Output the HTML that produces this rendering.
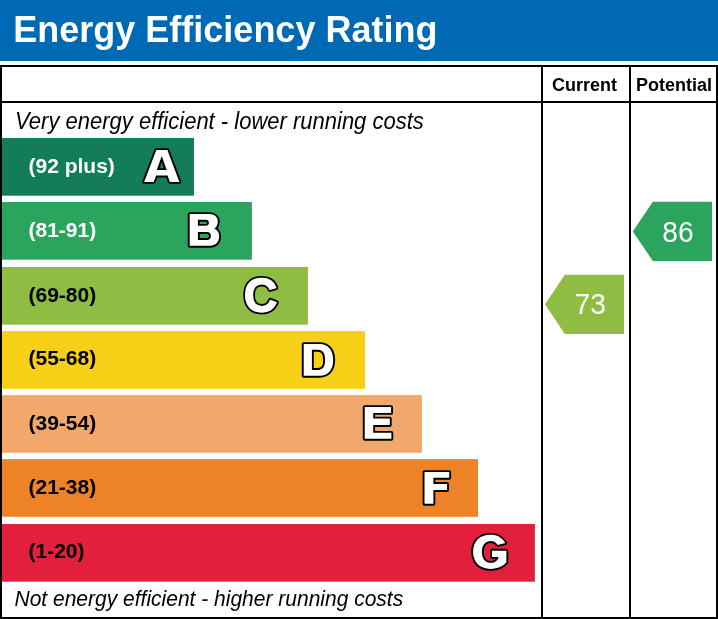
<!DOCTYPE html>
<html><head><meta charset="utf-8">
<style>
html,body{margin:0;padding:0;}
body{width:718px;height:619px;position:relative;overflow:hidden;background:#fff;font-family:"Liberation Sans",sans-serif;}
.abs{position:absolute;}
#hdr{left:0;top:0;width:718px;height:61px;background:#0069b4;}
#title{left:13.3px;top:9px;color:#fff;font-weight:bold;font-size:36px;line-height:42px;white-space:nowrap;}
.ln{background:#000;}
.bar{left:2px;height:57.7px;}
.rng{left:28.5px;color:#fff;font-weight:bold;font-size:21px;line-height:22px;white-space:nowrap;}
.rngd{color:#000;}
.it{left:15px;font-style:italic;font-size:22px;line-height:24px;color:#000;white-space:nowrap;}
.colh{font-weight:bold;font-size:18px;line-height:20px;margin-top:0.5px;color:#000;white-space:nowrap;}
</style></head><body>
<div id="hdr" class="abs"></div>
<div id="wrap" class="abs" style="left:0;top:0;width:718px;height:619px;will-change:transform">
<div id="title" class="abs">Energy Efficiency Rating</div>

<!-- frame -->
<div class="abs ln" style="left:0;top:65px;width:718px;height:2px"></div>
<div class="abs ln" style="left:0;top:101px;width:718px;height:2px"></div>
<div class="abs ln" style="left:0;top:617px;width:718px;height:2px"></div>
<div class="abs ln" style="left:0;top:65px;width:2px;height:554px"></div>
<div class="abs ln" style="left:541px;top:65px;width:2px;height:554px"></div>
<div class="abs ln" style="left:629px;top:65px;width:2px;height:554px"></div>
<div class="abs ln" style="left:716px;top:65px;width:2px;height:554px"></div>

<div class="abs colh" style="left:552px;top:74px">Current</div>
<div class="abs colh" style="left:636px;top:74px">Potential</div>

<div class="abs it" style="top:109.6px;transform:scaleY(1.05);transform-origin:0 19px">Very energy efficient - lower running costs</div>
<div class="abs it" style="top:586.8px;font-size:21px;left:14.5px;transform:scaleY(1.07);transform-origin:0 19px">Not energy efficient - higher running costs</div>

<svg class="abs" style="left:0;top:0" width="718" height="619" viewBox="0 0 718 619">
 <rect x="2" y="138" width="192.0" height="57.7" fill="#137d58"/>
 <rect x="2" y="202" width="249.9" height="57.7" fill="#2ba55d"/>
 <rect x="2" y="267" width="305.9" height="57.7" fill="#8fbc43"/>
 <rect x="2" y="331.1" width="363.0" height="57.7" fill="#f8cf17"/>
 <rect x="2" y="395.1" width="419.9" height="57.7" fill="#f2a86c"/>
 <rect x="2" y="459.1" width="476.0" height="57.7" fill="#ee8226"/>
 <rect x="2" y="524" width="532.9" height="57.7" fill="#e31f3e"/>
</svg>
<div class="abs rng" style="top:155.0px">(92 plus)</div>
<div class="abs rng" style="top:219.0px">(81-91)</div>
<div class="abs rng rngd" style="top:284.1px">(69-80)</div>
<div class="abs rng rngd" style="top:346.8px">(55-68)</div>
<div class="abs rng rngd" style="top:412.1px">(39-54)</div>
<div class="abs rng rngd" style="top:476.1px">(21-38)</div>
<div class="abs rng rngd" style="top:539.7px">(1-20)</div>

<svg class="abs" style="left:0;top:0" width="718" height="619" viewBox="0 0 718 619">
 <g font-family="Liberation Sans, sans-serif" font-weight="bold" font-size="44" stroke-linejoin="round">
  <g transform="translate(243.63,312.42) scale(1.063,1.092)"><text x="0" y="0" fill="#000" stroke="#000" stroke-width="4.6">C</text><text x="0" y="0" fill="#fff" stroke="#fff" stroke-width="1.2">C</text></g>
 </g>
  <g fill="#fff" stroke="#000" stroke-width="3.8" paint-order="stroke" stroke-linejoin="round" id="cust">
   <path fill-rule="evenodd" d="M156.3,150.05 L167.4,150.05 L179.4,181.9 L169.9,181.9 L167.5,175.5 L156.15,175.5 L153.7,181.9 L144.1,181.9 Z M161.75,156.0 L156.8,170.1 L166.7,170.1 Z"/>
   <path fill-rule="evenodd" d="M189.7,214.05 H209.5 C214.5,214.05 217.8,217 217.8,221.4 C217.8,224.8 216.6,227.2 214.2,228.6 C217.4,229.9 219.2,232.8 219.2,236.6 C219.2,242.2 215.5,245.8 210,245.8 H189.7 Z M197.9,219.8 H205.5 C207.7,219.8 208.9,220.9 208.9,222.8 C208.9,224.7 207.7,225.85 205.5,225.85 H197.9 Z M197.9,232.1 H207 C209.5,232.1 210.9,233.6 210.9,236 C210.9,238.4 209.5,239.9 207,239.9 H197.9 Z"/>
   <path fill-rule="evenodd" d="M303.7,344.05 H319.5 C328.6,344.05 333.2,350.8 333.2,359.9 C333.2,369.2 328.6,375.8 319.5,375.8 H303.7 Z M311.9,349.8 H317.8 C322.9,349.8 325.1,353.4 325.1,359.9 C325.1,366.5 322.9,369.9 317.8,369.9 H311.9 Z"/>
   <path d="M364.7,407.05 H391.1 V412.95 H373.2 V418.6 H389.8 V425.1 H373.2 V432.8 H391.4 V438.8 H364.7 Z"/>
   <path d="M424.5,472.05 H449.2 V477.8 H433.4 V483.9 H447.1 V490.1 H433.4 V503.8 H424.5 Z"/>
   <path d="M505.3,543.1 C501.7,537.3 497.4,534.8 490.5,534.8 C479.7,534.8 473.1,541.3 473.1,551.85 C473.1,562.4 479.7,568.9 490.5,568.9 C498,568.9 503.2,566.2 506.4,562.3 V550.75 H492 V556.9 H498.3 V558.4 C496.45,561.4 494.2,562.8 491,562.8 C485.4,562.8 481.9,558.7 481.9,551.9 C481.9,545.1 485.4,541 491,541 C493.9,541 495.8,542.3 497.7,544.9 Z"/>
  </g>
 <polygon points="545,304.3 564.8,274.7 624,274.7 624,333.9 564.8,333.9" fill="#8fbc43"/>
 <polygon points="632.8,231.4 652.8,201.8 712,201.8 712,260.9 652.8,260.9" fill="#2ba55d"/>
 <g font-family="Liberation Sans, sans-serif" font-size="29.5" fill="#fff" text-anchor="middle">
  <text transform="translate(590.2,314.3) scale(0.955,1)">73</text>
  <text transform="translate(678,241.6) scale(0.955,1)">86</text>
 </g>
</svg>
</div>
</body></html>
